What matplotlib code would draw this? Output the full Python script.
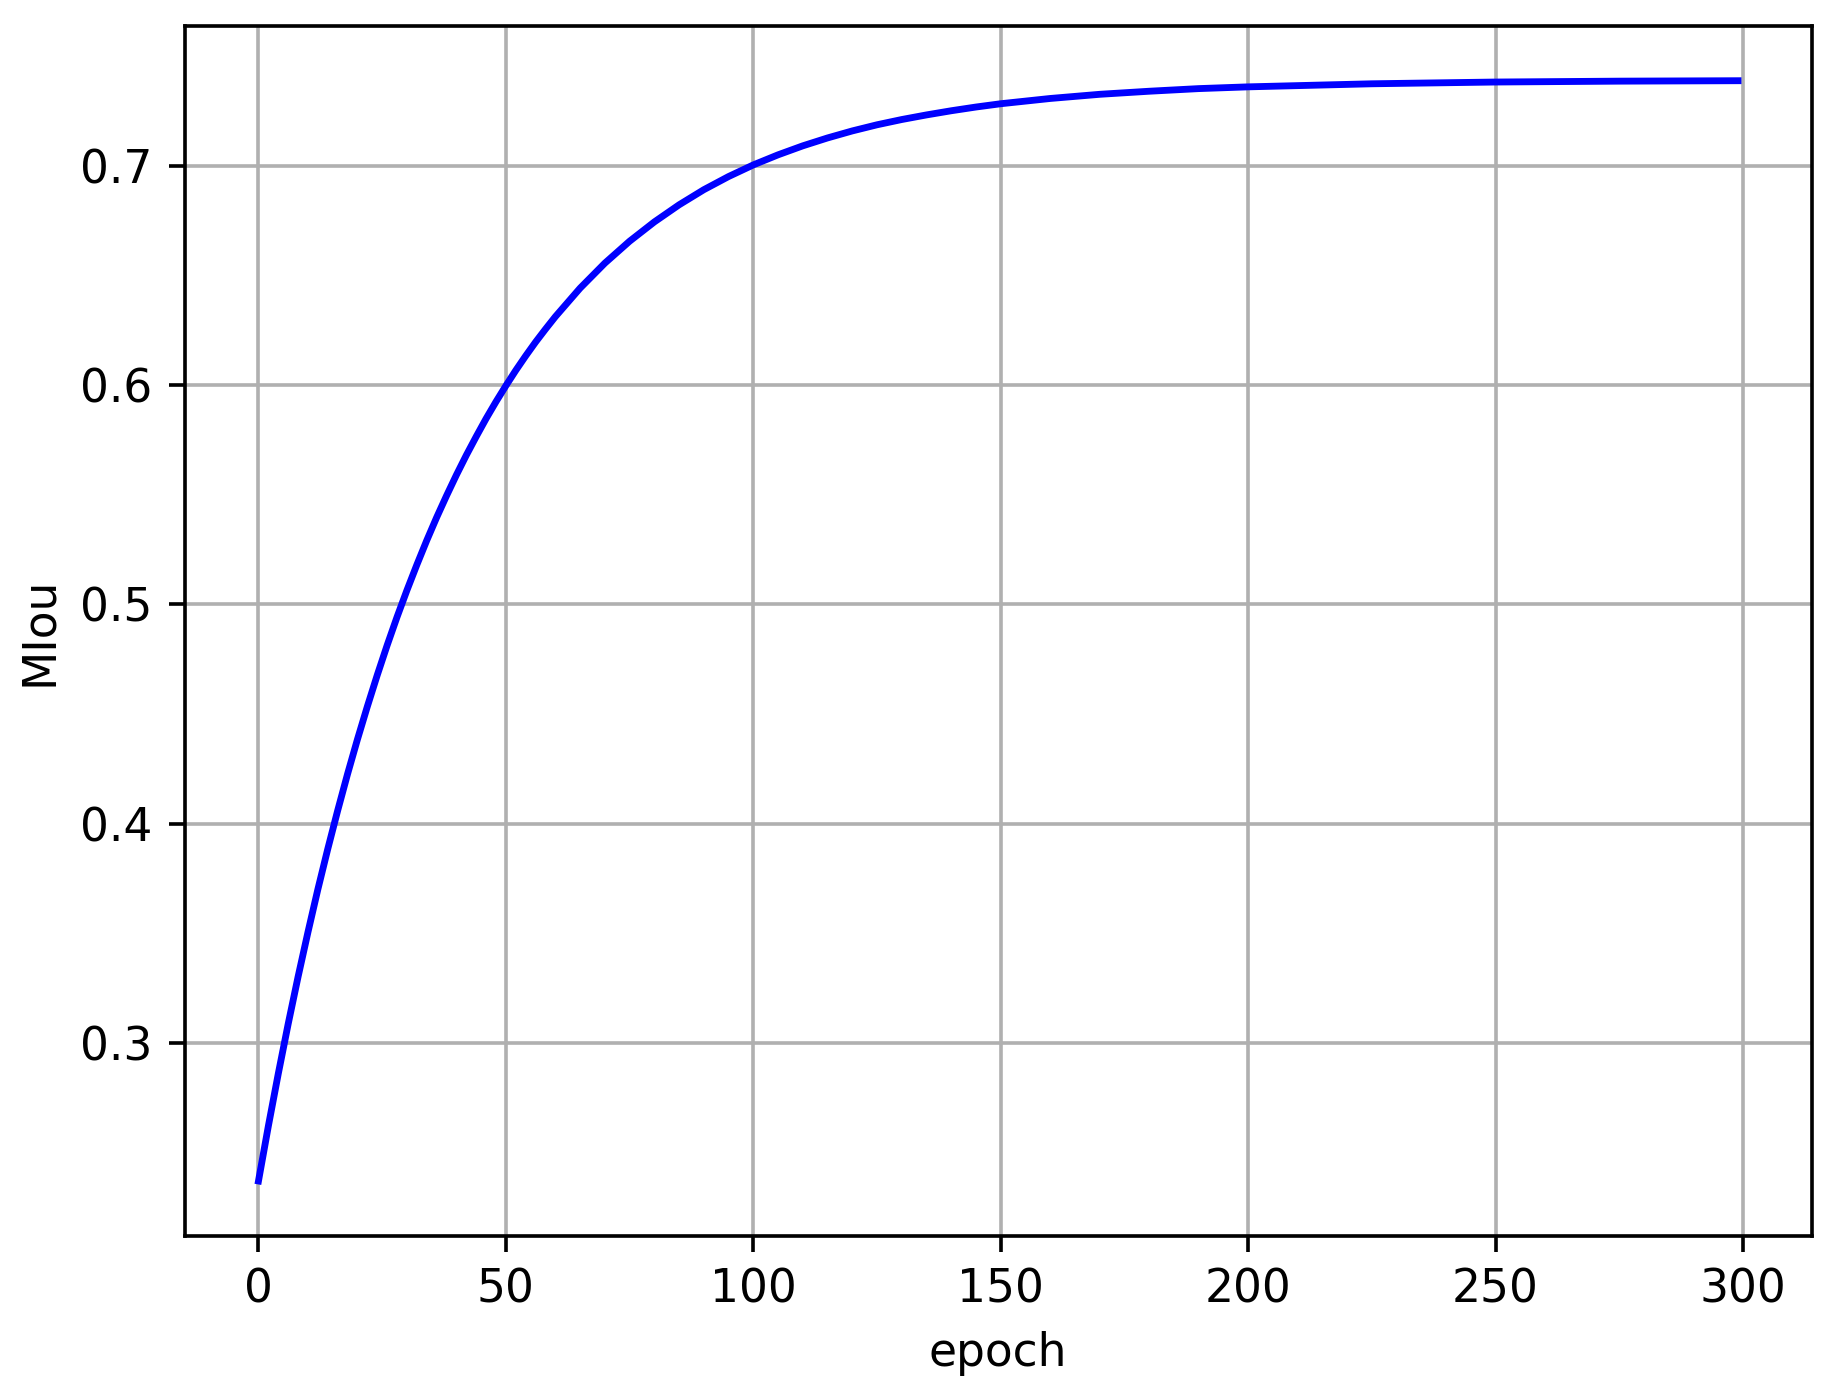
import matplotlib
matplotlib.use("Agg")
import matplotlib.pyplot as plt

# MIoU per epoch (denser where it bends most)
epochs = [0, 2, 4, 6, 8, 10, 12, 14, 16, 18, 20, 22, 24, 26, 28, 30,
          32, 34, 36, 38, 40, 42, 44, 46, 48, 50, 52, 54, 56, 58, 60,
          65, 70, 75, 80, 85, 90, 95, 100, 105, 110, 115, 120, 125, 130,
          135, 140, 145, 150, 160, 170, 180, 190, 200, 225, 250, 275, 299]
miou = [0.2370, 0.2621, 0.2859, 0.3086, 0.3301, 0.3505, 0.3700, 0.3884,
        0.4059, 0.4226, 0.4384, 0.4534, 0.4677, 0.4813, 0.4942, 0.5064,
        0.5180, 0.5291, 0.5396, 0.5495, 0.5590, 0.5680, 0.5765, 0.5847,
        0.5924, 0.5997, 0.6067, 0.6133, 0.6196, 0.6255, 0.6312,
        0.6442, 0.6556, 0.6656, 0.6744, 0.6822, 0.6891, 0.6951, 0.7004,
        0.7050, 0.7091, 0.7127, 0.7159, 0.7187, 0.7211, 0.7232, 0.7251, 0.7268,
        0.7283, 0.7307, 0.7326, 0.7340, 0.7352, 0.7360, 0.7374, 0.7382,
        0.7386, 0.7388]

dpi = 328
fig = plt.figure(figsize=(1831 / dpi, 1396 / dpi), dpi=dpi)
ax = fig.add_axes([184.5 / 1831, 1 - 1236 / 1396, (1812 - 184.5) / 1831, (1236 - 25.7) / 1396])

ax.plot(epochs, miou, color="blue")
ax.set_xlabel("epoch")
ax.set_ylabel("MIou")
ax.grid(True)

fig.savefig("out.png", dpi=dpi)
